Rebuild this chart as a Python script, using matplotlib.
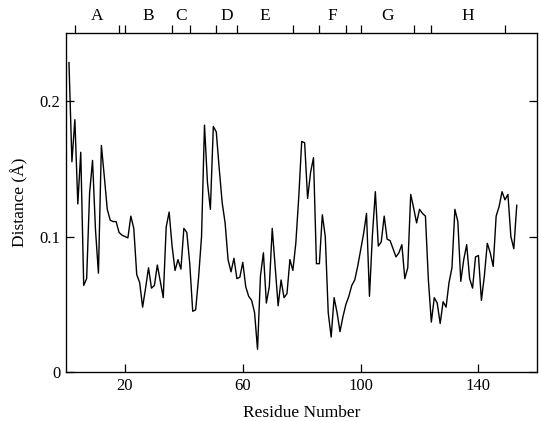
import numpy as np
import matplotlib
matplotlib.use("Agg")
import matplotlib.pyplot as plt

# per-residue distance values (residues 1..153)
residues = np.arange(1, 154)
distance = [
    0.228, 0.155, 0.186, 0.124, 0.162, 0.064, 0.069, 0.132, 0.156, 0.105,
    0.073, 0.167, 0.144, 0.120, 0.112, 0.111, 0.111, 0.103, 0.101, 0.100,
    0.099, 0.115, 0.106, 0.072, 0.066, 0.048, 0.062, 0.077, 0.062, 0.064,
    0.079, 0.067, 0.055, 0.107, 0.118, 0.093, 0.075, 0.083, 0.076, 0.106,
    0.103, 0.080, 0.045, 0.046, 0.070, 0.100, 0.182, 0.140, 0.120, 0.181,
    0.177, 0.150, 0.125, 0.110, 0.083, 0.074, 0.084, 0.069, 0.070, 0.081,
    0.063, 0.056, 0.053, 0.044, 0.017, 0.071, 0.088, 0.051, 0.063, 0.106,
    0.078, 0.049, 0.068, 0.055, 0.058, 0.083, 0.075, 0.095, 0.129, 0.170,
    0.169, 0.128, 0.147, 0.158, 0.080, 0.080, 0.116, 0.100, 0.044, 0.026,
    0.055, 0.044, 0.030, 0.041, 0.050, 0.056, 0.064, 0.068, 0.078, 0.090,
    0.102, 0.117, 0.056, 0.101, 0.133, 0.093, 0.096, 0.115, 0.098, 0.097,
    0.091, 0.085, 0.088, 0.094, 0.069, 0.077, 0.131, 0.121, 0.110, 0.120,
    0.117, 0.115, 0.068, 0.037, 0.055, 0.051, 0.036, 0.052, 0.048, 0.066,
    0.077, 0.120, 0.111, 0.067, 0.083, 0.094, 0.069, 0.062, 0.085, 0.086,
    0.053, 0.071, 0.095, 0.088, 0.078, 0.115, 0.122, 0.133, 0.127, 0.131,
    0.100, 0.091, 0.123,
]

# helix segments (start, end) and names along the top
helix_names = ["A", "B", "C", "D", "E", "F", "G", "H"]
helix_bounds = [(3, 18), (20, 36), (36, 42), (51, 58), (58, 77), (86, 95), (100, 118), (124, 149)]

x_ticks = [20, 60, 100, 140]
y_ticks = [0, 0.1, 0.2]
y_ticklabels = ["0", "0.1", "0.2"]

plt.rcParams["font.family"] = ["Liberation Serif", "DejaVu Serif"]

fig = plt.figure(figsize=(5.39, 4.21), dpi=100)
ax = fig.add_axes([0.1225, 0.1155, 0.8745, 0.8068])

ax.plot(residues, distance, color="black", lw=1.0)

ax.set_xlim(0, 160)
ax.set_ylim(0, 0.25)
ax.set_xticks(x_ticks)
ax.set_yticks(y_ticks)
ax.set_yticklabels(y_ticklabels)
ax.tick_params(axis="both", direction="in", length=6, width=0.9, labelsize=12,
               right=True, top=False, colors="black")
ax.tick_params(axis="x", pad=4)
ax.tick_params(axis="y", pad=4)
for s in ax.spines.values():
    s.set_linewidth(0.9)

ax.set_xlabel("Residue Number", fontsize=12.5, labelpad=8)
ax.set_ylabel("Distance (Å)", fontsize=12.5, labelpad=8)

# top axis: helix boundaries and labels
top = ax.twiny()
top.set_xlim(ax.get_xlim())
bounds = sorted(set(b for seg in helix_bounds for b in seg))
top.set_xticks(bounds)
top.set_xticklabels([])
top.set_xticks([(a + b) / 2 for a, b in helix_bounds], minor=True)
top.set_xticklabels(helix_names, minor=True)
top.tick_params(axis="x", which="major", direction="out", length=6, width=0.9)
top.tick_params(axis="x", which="minor", length=0, labelsize=12.5, pad=6)

fig.savefig("out.png", dpi=100)
